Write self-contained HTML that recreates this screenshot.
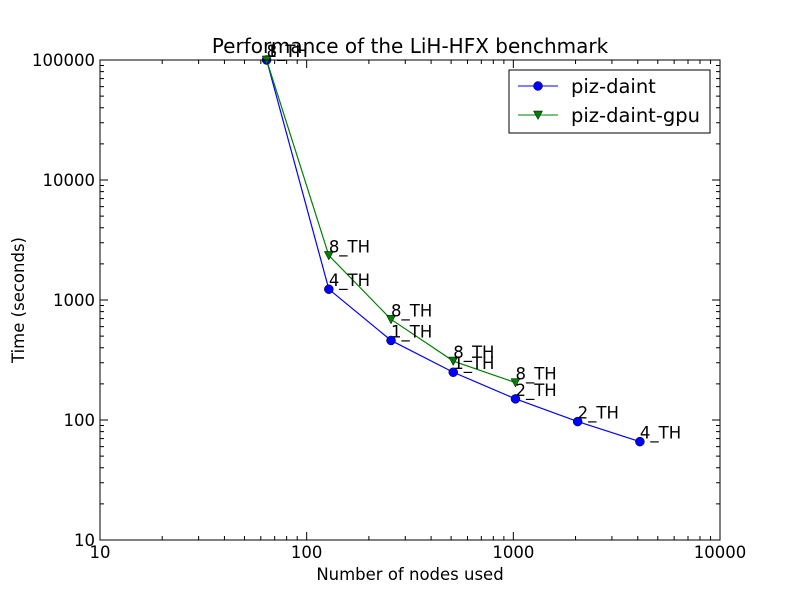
<!DOCTYPE html>
<html><head><style>body{margin:0;background:#fff}svg{display:block}</style></head>
<body>
<svg id="s" width="800" height="600" xmlns="http://www.w3.org/2000/svg" font-family="DejaVu Sans, Liberation Sans, sans-serif">
<rect width="800" height="600" fill="#fff"/>
<g id="g"></g>
</svg>
<script>
const g=document.getElementById('g');let h='';
const X=v=>100+206.667*Math.log10(v/10), Y=v=>540-120*Math.log10(v/10);
for(let d=1;d<4;d++)for(let k=1;k<10;k++){const v=Math.pow(10,d)*k;if(v>10000)break;const x=X(v);const L=k==1?8:4;
if(x>100.5&&x<719.5){h+=`<line x1="${x}" y1="540" x2="${x}" y2="${540-L}" stroke="#000"/><line x1="${x}" y1="60" x2="${x}" y2="${60+L}" stroke="#000"/>`;}}
for(let d=1;d<5;d++)for(let k=1;k<10;k++){const v=Math.pow(10,d)*k;const y=Y(v);const L=k==1?8:4;
if(y<539.5&&y>60.5){h+=`<line x1="100" y1="${y}" x2="${100+L}" y2="${y}" stroke="#000"/><line x1="720" y1="${y}" x2="${720-L}" y2="${y}" stroke="#000"/>`;}}
[10,100,1000,10000].forEach(v=>h+=`<text x="${X(v)}" y="558" font-size="16.5" text-anchor="middle">${v}</text>`);
[10,100,1000,10000,100000].forEach(v=>h+=`<text x="95" y="${Y(v)+6}" font-size="16.5" text-anchor="end">${v}</text>`);
const xs=[64,128,256,512,1024,2048,4096];
const a=[100000,1230,460,250,150,97,66], b=[100000,2350,690,310,205];
const la=['1_TH','4_TH','1_TH','1_TH','2_TH','2_TH','4_TH'], lb=['8_TH','8_TH','8_TH','8_TH','8_TH'];
h+=`<polyline fill="none" stroke="#0000ff" stroke-width="1.2" points="${a.map((v,i)=>X(xs[i])+','+Y(v)).join(' ')}"/>`;
h+=`<polyline fill="none" stroke="#007f00" stroke-width="1.2" points="${b.map((v,i)=>X(xs[i])+','+Y(v)).join(' ')}"/>`;
a.forEach((v,i)=>h+=`<circle cx="${X(xs[i])}" cy="${Y(v)}" r="4.5" fill="#0000ff" stroke="#000" stroke-width="0.5"/>`);
b.forEach((v,i)=>{const x=X(xs[i]),y=Y(v);h+=`<path d="M${x-4.5},${y-4} L${x+4.5},${y-4} L${x},${y+4.5}Z" fill="#007f00" stroke="#000" stroke-width="0.5"/>`;});
a.forEach((v,i)=>h+=`<text x="${X(xs[i])}" y="${Y(v)-3}" font-size="16.5">${la[i]}</text>`);
b.forEach((v,i)=>h+=`<text x="${X(xs[i])}" y="${Y(v)-3}" font-size="16.5">${lb[i]}</text>`);
h+=`<rect x="100" y="60" width="620" height="480" fill="none" stroke="#000"/>`;
h+=`<text x="410" y="53" font-size="20" text-anchor="middle">Performance of the LiH-HFX benchmark</text>`;
h+=`<text x="410" y="580" font-size="16.5" text-anchor="middle">Number of nodes used</text>`;
h+=`<text transform="translate(24,300) rotate(-90)" font-size="16.5" text-anchor="middle">Time (seconds)</text>`;
h+=`<rect x="509" y="70" width="201" height="63" fill="#fff" stroke="#000"/>`;
h+=`<line x1="518" y1="86" x2="558" y2="86" stroke="#0000ff"/><circle cx="538" cy="86" r="4.5" fill="#0000ff" stroke="#000" stroke-width="0.5"/>`;
h+=`<text x="571" y="93" font-size="19.5">piz-daint</text>`;
h+=`<line x1="518" y1="115" x2="558" y2="115" stroke="#007f00"/><path d="M533.5,111 L542.5,111 L538,119.5Z" fill="#007f00" stroke="#000" stroke-width="0.5"/>`;
h+=`<text x="571" y="122" font-size="19.5">piz-daint-gpu</text>`;
g.innerHTML=h;
</script>
</body></html>
